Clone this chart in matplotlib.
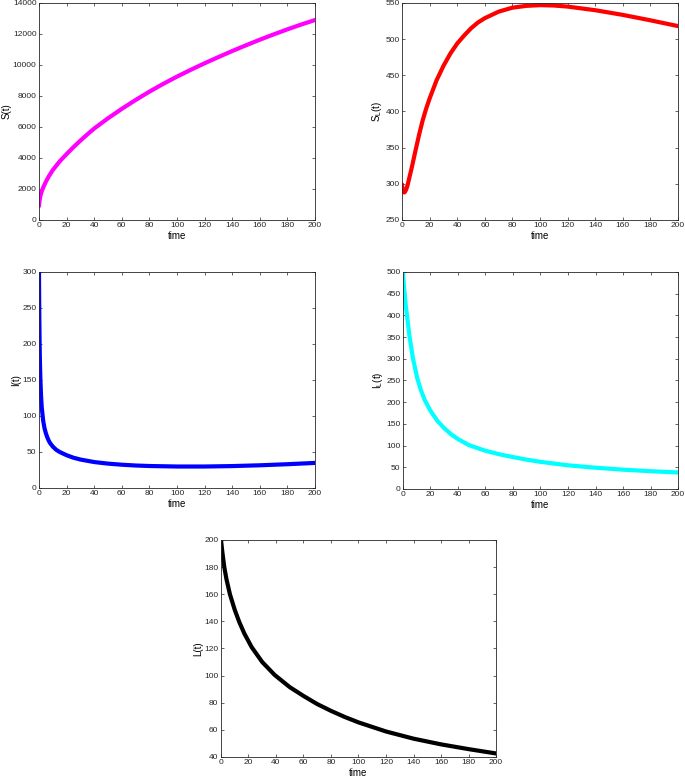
import matplotlib
matplotlib.use("Agg")
import matplotlib.pyplot as plt

plt.rcParams["font.family"] = ["Liberation Sans", "DejaVu Sans"]
plt.rcParams["mathtext.default"] = "regular"

# ── Data ────────────────────────────────────────────────────────────
t_S = [0, 0.5, 1, 2, 3, 5, 7, 10, 15, 20, 25, 30, 35, 40, 50, 60, 70, 80,
       90, 100, 110, 120, 130, 140, 150, 160, 170, 180, 190, 200]
S = [950, 1300, 1550, 1850, 2080, 2470, 2800, 3220, 3780, 4250, 4700, 5120,
     5520, 5900, 6560, 7170, 7740, 8280, 8780, 9250, 9690, 10110, 10510,
     10900, 11270, 11630, 11970, 12300, 12610, 12900]

t_SL = [0, 0.5, 1, 1.5, 2, 3, 4, 5, 7, 10, 12.5, 15, 17.5, 20, 25, 30, 35,
        40, 45, 50, 55, 60, 70, 80, 90, 100, 110, 120, 140, 160, 180, 200]
SL = [298, 292, 289, 288, 288.5, 292, 298, 306, 322, 348, 369, 388, 404,
      418, 443, 463, 480, 494, 505, 515, 523, 529, 538, 543.5, 546, 547,
      546.5, 545, 540, 533.5, 526, 518]

t_I = [0, 0.1, 0.25, 0.5, 0.75, 1, 1.5, 2, 3, 4, 5, 6, 7, 8, 10, 12.5, 15,
       20, 25, 30, 40, 50, 60, 70, 80, 100, 120, 140, 160, 180, 200]
I = [300, 270, 235, 195, 170, 152, 128, 112, 94, 83, 76, 70.5, 66, 62.5,
     57.5, 53, 50, 45.5, 42, 39.5, 36, 33.8, 32.3, 31.2, 30.5, 29.8, 29.8,
     30.4, 31.5, 33, 34.8]

t_IL = [0, 0.5, 1.2, 2, 2.9, 4.8, 7.3, 10.4, 13, 15.8, 20, 25, 30, 35, 40,
        48, 60, 70, 80, 90, 100, 120, 140, 160, 180, 200]
IL = [500, 476, 450, 423, 400, 350, 300, 255, 228, 205, 180, 157, 140, 126,
      115, 101, 88, 80, 73.5, 67.5, 62.5, 54.5, 49, 44.5, 41, 38]

t_L = [0, 1, 2.4, 4, 6.5, 10, 13.3, 17, 22.3, 30, 39, 50, 60, 70, 80, 90,
       100, 120, 140, 160, 180, 200]
L = [200, 191, 180, 171, 160, 148.5, 139.5, 131, 121, 110, 100.5, 91.5, 85,
     79, 74, 69.5, 65.5, 58.8, 53.5, 49.3, 45.8, 42.6]

panels = [
    # (rect, t, y, color, ylabel, ylim, yticks)
    ([0.0569, 0.7187, 0.403, 0.2775], t_S, S, "magenta", "S(t)",
     (0, 14000), range(0, 14001, 2000)),
    ([0.5869, 0.7187, 0.403, 0.2775], t_SL, SL, "red", "S$_{L}$(t)",
     (250, 550), range(250, 551, 50)),
    ([0.0569, 0.3760, 0.403, 0.2762], t_I, I, "blue", "I(t)",
     (0, 300), range(0, 301, 50)),
    ([0.5883, 0.3747, 0.4015, 0.2775], t_IL, IL, "cyan", "I$_{L}$(t)",
     (0, 500), range(0, 501, 50)),
    ([0.3226, 0.0320, 0.4015, 0.2775], t_L, L, "black", "L(t)",
     (40, 200), range(40, 201, 20)),
]

fig = plt.figure(figsize=(6.85, 7.82), dpi=100)

for rect, t, y, color, ylab, ylim, yticks in panels:
    ax = fig.add_axes(rect)
    ax.plot(t, y, color=color, linewidth=3.0, solid_joinstyle="round")
    ax.set_xlim(0, 200)
    ax.set_ylim(*ylim)
    ax.set_xticks(range(0, 201, 20))
    ax.set_yticks(list(yticks))
    ax.set_xlabel("time", fontsize=7, labelpad=1)
    ax.set_ylabel(ylab, fontsize=7, labelpad=1)
    ax.tick_params(direction="in", top=True, right=True, length=2.5,
                   width=0.5, labelsize=6.0, pad=1.8, colors="#262626")
    for sp in ax.spines.values():
        sp.set_linewidth(0.6)
        sp.set_color("#262626")

fig.savefig("out.png", dpi=100)
